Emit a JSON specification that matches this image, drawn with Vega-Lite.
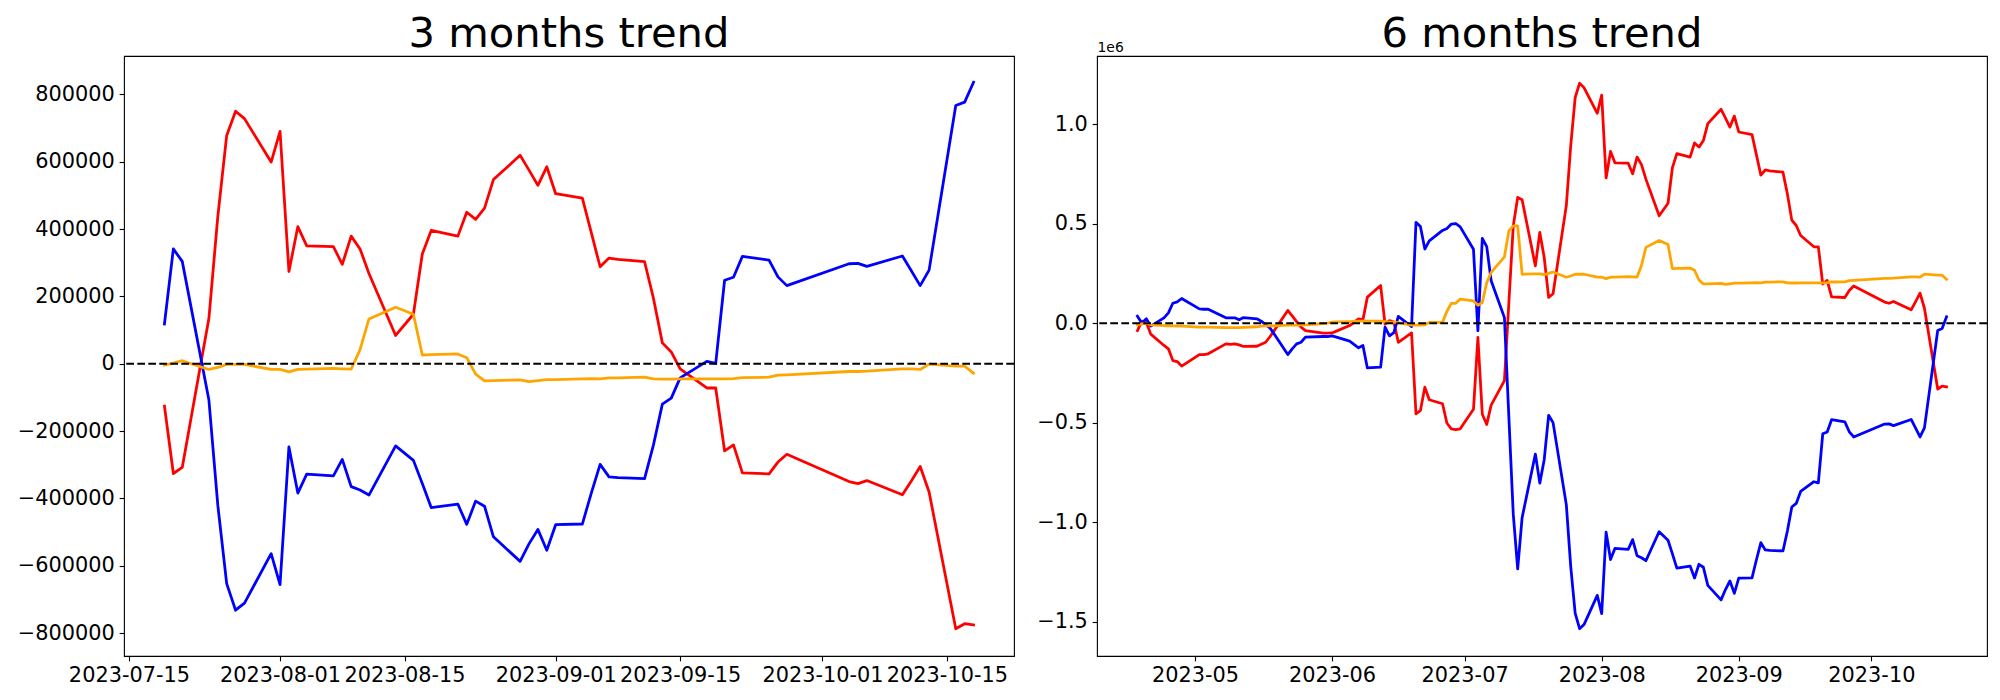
{"$schema":"https://vega.github.io/schema/vega-lite/v6.json","background":"white","padding":{"left":16,"top":13,"right":10,"bottom":10},"autosize":{"type":"pad"},"bounds":"flush","spacing":83,
"datasets":{
"m3":[
{"d":"2023-07-19","s":"s1","v":-126000},{"d":"2023-07-20","s":"s1","v":-326000},{"d":"2023-07-21","s":"s1","v":-308000},{"d":"2023-07-24","s":"s1","v":135000},{"d":"2023-07-25","s":"s1","v":437000},{"d":"2023-07-26","s":"s1","v":678000},{"d":"2023-07-27","s":"s1","v":750000},{"d":"2023-07-28","s":"s1","v":728000},{"d":"2023-07-31","s":"s1","v":599000},{"d":"2023-08-01","s":"s1","v":690000},{"d":"2023-08-02","s":"s1","v":274000},{"d":"2023-08-03","s":"s1","v":407000},{"d":"2023-08-04","s":"s1","v":350000},{"d":"2023-08-07","s":"s1","v":348000},{"d":"2023-08-08","s":"s1","v":295000},{"d":"2023-08-09","s":"s1","v":379000},{"d":"2023-08-10","s":"s1","v":341000},{"d":"2023-08-11","s":"s1","v":268000},{"d":"2023-08-14","s":"s1","v":84000},{"d":"2023-08-16","s":"s1","v":147000},{"d":"2023-08-17","s":"s1","v":326000},{"d":"2023-08-18","s":"s1","v":396000},{"d":"2023-08-21","s":"s1","v":379000},{"d":"2023-08-22","s":"s1","v":450000},{"d":"2023-08-23","s":"s1","v":429000},{"d":"2023-08-24","s":"s1","v":462000},{"d":"2023-08-25","s":"s1","v":547000},{"d":"2023-08-28","s":"s1","v":619000},{"d":"2023-08-29","s":"s1","v":575000},{"d":"2023-08-30","s":"s1","v":530000},{"d":"2023-08-31","s":"s1","v":585000},{"d":"2023-09-01","s":"s1","v":505000},{"d":"2023-09-04","s":"s1","v":492000},{"d":"2023-09-05","s":"s1","v":390000},{"d":"2023-09-06","s":"s1","v":288000},{"d":"2023-09-07","s":"s1","v":314000},{"d":"2023-09-08","s":"s1","v":310000},{"d":"2023-09-11","s":"s1","v":303000},{"d":"2023-09-12","s":"s1","v":194000},{"d":"2023-09-13","s":"s1","v":62000},{"d":"2023-09-14","s":"s1","v":35000},{"d":"2023-09-15","s":"s1","v":-15000},{"d":"2023-09-18","s":"s1","v":-72000},{"d":"2023-09-19","s":"s1","v":-72000},{"d":"2023-09-20","s":"s1","v":-259000},{"d":"2023-09-21","s":"s1","v":-241000},{"d":"2023-09-22","s":"s1","v":-324000},{"d":"2023-09-25","s":"s1","v":-327000},{"d":"2023-09-26","s":"s1","v":-292000},{"d":"2023-09-27","s":"s1","v":-269000},{"d":"2023-10-04","s":"s1","v":-350000},{"d":"2023-10-05","s":"s1","v":-356000},{"d":"2023-10-06","s":"s1","v":-347000},{"d":"2023-10-10","s":"s1","v":-389000},{"d":"2023-10-11","s":"s1","v":-348000},{"d":"2023-10-12","s":"s1","v":-305000},{"d":"2023-10-13","s":"s1","v":-381000},{"d":"2023-10-16","s":"s1","v":-787000},{"d":"2023-10-17","s":"s1","v":-772000},{"d":"2023-10-18","s":"s1","v":-776000},
{"d":"2023-07-19","s":"s2","v":118000},{"d":"2023-07-20","s":"s2","v":341000},{"d":"2023-07-21","s":"s2","v":304000},{"d":"2023-07-24","s":"s2","v":-108000},{"d":"2023-07-25","s":"s2","v":-420000},{"d":"2023-07-26","s":"s2","v":-653000},{"d":"2023-07-27","s":"s2","v":-732000},{"d":"2023-07-28","s":"s2","v":-711000},{"d":"2023-07-31","s":"s2","v":-564000},{"d":"2023-08-01","s":"s2","v":-656000},{"d":"2023-08-02","s":"s2","v":-247000},{"d":"2023-08-03","s":"s2","v":-384000},{"d":"2023-08-04","s":"s2","v":-328000},{"d":"2023-08-07","s":"s2","v":-333000},{"d":"2023-08-08","s":"s2","v":-284000},{"d":"2023-08-09","s":"s2","v":-365000},{"d":"2023-08-10","s":"s2","v":-375000},{"d":"2023-08-11","s":"s2","v":-390000},{"d":"2023-08-14","s":"s2","v":-244000},{"d":"2023-08-16","s":"s2","v":-287000},{"d":"2023-08-17","s":"s2","v":-356000},{"d":"2023-08-18","s":"s2","v":-427000},{"d":"2023-08-21","s":"s2","v":-417000},{"d":"2023-08-22","s":"s2","v":-477000},{"d":"2023-08-23","s":"s2","v":-408000},{"d":"2023-08-24","s":"s2","v":-423000},{"d":"2023-08-25","s":"s2","v":-514000},{"d":"2023-08-28","s":"s2","v":-587000},{"d":"2023-08-29","s":"s2","v":-535000},{"d":"2023-08-30","s":"s2","v":-492000},{"d":"2023-08-31","s":"s2","v":-554000},{"d":"2023-09-01","s":"s2","v":-478000},{"d":"2023-09-04","s":"s2","v":-476000},{"d":"2023-09-05","s":"s2","v":-385000},{"d":"2023-09-06","s":"s2","v":-299000},{"d":"2023-09-07","s":"s2","v":-336000},{"d":"2023-09-08","s":"s2","v":-338000},{"d":"2023-09-11","s":"s2","v":-341000},{"d":"2023-09-12","s":"s2","v":-241000},{"d":"2023-09-13","s":"s2","v":-120000},{"d":"2023-09-14","s":"s2","v":-102000},{"d":"2023-09-15","s":"s2","v":-42000},{"d":"2023-09-18","s":"s2","v":7000},{"d":"2023-09-19","s":"s2","v":1000},{"d":"2023-09-20","s":"s2","v":248000},{"d":"2023-09-21","s":"s2","v":257000},{"d":"2023-09-22","s":"s2","v":319000},{"d":"2023-09-25","s":"s2","v":308000},{"d":"2023-09-26","s":"s2","v":258000},{"d":"2023-09-27","s":"s2","v":232000},{"d":"2023-10-04","s":"s2","v":297000},{"d":"2023-10-05","s":"s2","v":298000},{"d":"2023-10-06","s":"s2","v":289000},{"d":"2023-10-10","s":"s2","v":320000},{"d":"2023-10-11","s":"s2","v":276000},{"d":"2023-10-12","s":"s2","v":232000},{"d":"2023-10-13","s":"s2","v":278000},{"d":"2023-10-16","s":"s2","v":767000},{"d":"2023-10-17","s":"s2","v":777000},{"d":"2023-10-18","s":"s2","v":836000},
{"d":"2023-07-19","s":"s3","v":-4000},{"d":"2023-07-20","s":"s3","v":2000},{"d":"2023-07-21","s":"s3","v":9000},{"d":"2023-07-24","s":"s3","v":-17000},{"d":"2023-07-25","s":"s3","v":-11000},{"d":"2023-07-26","s":"s3","v":-2000},{"d":"2023-07-27","s":"s3","v":-2000},{"d":"2023-07-28","s":"s3","v":-2000},{"d":"2023-07-31","s":"s3","v":-17000},{"d":"2023-08-01","s":"s3","v":-17000},{"d":"2023-08-02","s":"s3","v":-24000},{"d":"2023-08-03","s":"s3","v":-17000},{"d":"2023-08-04","s":"s3","v":-16000},{"d":"2023-08-07","s":"s3","v":-14000},{"d":"2023-08-08","s":"s3","v":-15000},{"d":"2023-08-09","s":"s3","v":-16000},{"d":"2023-08-10","s":"s3","v":42000},{"d":"2023-08-11","s":"s3","v":133000},{"d":"2023-08-14","s":"s3","v":168000},{"d":"2023-08-16","s":"s3","v":147000},{"d":"2023-08-17","s":"s3","v":26000},{"d":"2023-08-18","s":"s3","v":27000},{"d":"2023-08-21","s":"s3","v":29000},{"d":"2023-08-22","s":"s3","v":18000},{"d":"2023-08-23","s":"s3","v":-31000},{"d":"2023-08-24","s":"s3","v":-51000},{"d":"2023-08-25","s":"s3","v":-50000},{"d":"2023-08-28","s":"s3","v":-48000},{"d":"2023-08-29","s":"s3","v":-53000},{"d":"2023-08-30","s":"s3","v":-50000},{"d":"2023-08-31","s":"s3","v":-47000},{"d":"2023-09-01","s":"s3","v":-47000},{"d":"2023-09-04","s":"s3","v":-45000},{"d":"2023-09-05","s":"s3","v":-44000},{"d":"2023-09-06","s":"s3","v":-45000},{"d":"2023-09-07","s":"s3","v":-42000},{"d":"2023-09-08","s":"s3","v":-42000},{"d":"2023-09-11","s":"s3","v":-40000},{"d":"2023-09-12","s":"s3","v":-45000},{"d":"2023-09-13","s":"s3","v":-46000},{"d":"2023-09-14","s":"s3","v":-46000},{"d":"2023-09-15","s":"s3","v":-45000},{"d":"2023-09-18","s":"s3","v":-45000},{"d":"2023-09-19","s":"s3","v":-45000},{"d":"2023-09-20","s":"s3","v":-45000},{"d":"2023-09-21","s":"s3","v":-44000},{"d":"2023-09-22","s":"s3","v":-41000},{"d":"2023-09-25","s":"s3","v":-40000},{"d":"2023-09-26","s":"s3","v":-34000},{"d":"2023-09-27","s":"s3","v":-33000},{"d":"2023-10-04","s":"s3","v":-23000},{"d":"2023-10-05","s":"s3","v":-23000},{"d":"2023-10-06","s":"s3","v":-22000},{"d":"2023-10-10","s":"s3","v":-15000},{"d":"2023-10-11","s":"s3","v":-15000},{"d":"2023-10-12","s":"s3","v":-17000},{"d":"2023-10-13","s":"s3","v":-1000},{"d":"2023-10-16","s":"s3","v":-7000},{"d":"2023-10-17","s":"s3","v":-7000},{"d":"2023-10-18","s":"s3","v":-28000}
],
"m6":[
{"d":"2023-04-18","s":"s1","v":-37000},{"d":"2023-04-19","s":"s1","v":10000},{"d":"2023-04-20","s":"s1","v":5000},{"d":"2023-04-21","s":"s1","v":-55000},{"d":"2023-04-24","s":"s1","v":-112000},{"d":"2023-04-25","s":"s1","v":-129000},{"d":"2023-04-26","s":"s1","v":-188000},{"d":"2023-04-27","s":"s1","v":-193000},{"d":"2023-04-28","s":"s1","v":-216000},{"d":"2023-05-02","s":"s1","v":-158000},{"d":"2023-05-03","s":"s1","v":-158000},{"d":"2023-05-04","s":"s1","v":-154000},{"d":"2023-05-08","s":"s1","v":-104000},{"d":"2023-05-09","s":"s1","v":-107000},{"d":"2023-05-10","s":"s1","v":-104000},{"d":"2023-05-11","s":"s1","v":-109000},{"d":"2023-05-12","s":"s1","v":-117000},{"d":"2023-05-15","s":"s1","v":-116000},{"d":"2023-05-16","s":"s1","v":-106000},{"d":"2023-05-17","s":"s1","v":-96000},{"d":"2023-05-18","s":"s1","v":-67000},{"d":"2023-05-19","s":"s1","v":-35000},{"d":"2023-05-22","s":"s1","v":64000},{"d":"2023-05-23","s":"s1","v":37000},{"d":"2023-05-24","s":"s1","v":8000},{"d":"2023-05-25","s":"s1","v":-20000},{"d":"2023-05-26","s":"s1","v":-37000},{"d":"2023-05-30","s":"s1","v":-50000},{"d":"2023-05-31","s":"s1","v":-50000},{"d":"2023-06-01","s":"s1","v":-49000},{"d":"2023-06-02","s":"s1","v":-40000},{"d":"2023-06-05","s":"s1","v":-12000},{"d":"2023-06-07","s":"s1","v":22000},{"d":"2023-06-08","s":"s1","v":17000},{"d":"2023-06-09","s":"s1","v":131000},{"d":"2023-06-12","s":"s1","v":189000},{"d":"2023-06-13","s":"s1","v":-5000},{"d":"2023-06-14","s":"s1","v":13000},{"d":"2023-06-15","s":"s1","v":5000},{"d":"2023-06-16","s":"s1","v":-96000},{"d":"2023-06-19","s":"s1","v":-49000},{"d":"2023-06-20","s":"s1","v":-456000},{"d":"2023-06-21","s":"s1","v":-439000},{"d":"2023-06-22","s":"s1","v":-322000},{"d":"2023-06-23","s":"s1","v":-385000},{"d":"2023-06-26","s":"s1","v":-405000},{"d":"2023-06-27","s":"s1","v":-503000},{"d":"2023-06-28","s":"s1","v":-531000},{"d":"2023-06-29","s":"s1","v":-535000},{"d":"2023-06-30","s":"s1","v":-531000},{"d":"2023-07-03","s":"s1","v":-433000},{"d":"2023-07-04","s":"s1","v":-72000},{"d":"2023-07-05","s":"s1","v":-458000},{"d":"2023-07-06","s":"s1","v":-509000},{"d":"2023-07-07","s":"s1","v":-412000},{"d":"2023-07-10","s":"s1","v":-289000},{"d":"2023-07-11","s":"s1","v":100000},{"d":"2023-07-12","s":"s1","v":489000},{"d":"2023-07-13","s":"s1","v":632000},{"d":"2023-07-14","s":"s1","v":620000},{"d":"2023-07-17","s":"s1","v":288000},{"d":"2023-07-18","s":"s1","v":456000},
{"d":"2023-07-19","s":"s1","v":330000},{"d":"2023-07-20","s":"s1","v":130000},{"d":"2023-07-21","s":"s1","v":148000},{"d":"2023-07-24","s":"s1","v":591000},{"d":"2023-07-25","s":"s1","v":893000},{"d":"2023-07-26","s":"s1","v":1134000},{"d":"2023-07-27","s":"s1","v":1206000},{"d":"2023-07-28","s":"s1","v":1184000},{"d":"2023-07-31","s":"s1","v":1055000},{"d":"2023-08-01","s":"s1","v":1146000},{"d":"2023-08-02","s":"s1","v":730000},{"d":"2023-08-03","s":"s1","v":863000},{"d":"2023-08-04","s":"s1","v":806000},{"d":"2023-08-07","s":"s1","v":804000},{"d":"2023-08-08","s":"s1","v":751000},{"d":"2023-08-09","s":"s1","v":835000},{"d":"2023-08-10","s":"s1","v":797000},{"d":"2023-08-11","s":"s1","v":724000},{"d":"2023-08-14","s":"s1","v":540000},{"d":"2023-08-16","s":"s1","v":603000},{"d":"2023-08-17","s":"s1","v":782000},{"d":"2023-08-18","s":"s1","v":852000},{"d":"2023-08-21","s":"s1","v":835000},{"d":"2023-08-22","s":"s1","v":906000},{"d":"2023-08-23","s":"s1","v":885000},{"d":"2023-08-24","s":"s1","v":918000},{"d":"2023-08-25","s":"s1","v":1003000},{"d":"2023-08-28","s":"s1","v":1075000},{"d":"2023-08-29","s":"s1","v":1031000},{"d":"2023-08-30","s":"s1","v":986000},{"d":"2023-08-31","s":"s1","v":1041000},{"d":"2023-09-01","s":"s1","v":961000},{"d":"2023-09-04","s":"s1","v":948000},{"d":"2023-09-05","s":"s1","v":846000},{"d":"2023-09-06","s":"s1","v":744000},{"d":"2023-09-07","s":"s1","v":770000},{"d":"2023-09-08","s":"s1","v":766000},{"d":"2023-09-11","s":"s1","v":759000},{"d":"2023-09-12","s":"s1","v":650000},{"d":"2023-09-13","s":"s1","v":518000},{"d":"2023-09-14","s":"s1","v":491000},{"d":"2023-09-15","s":"s1","v":441000},{"d":"2023-09-18","s":"s1","v":384000},{"d":"2023-09-19","s":"s1","v":384000},{"d":"2023-09-20","s":"s1","v":197000},{"d":"2023-09-21","s":"s1","v":215000},{"d":"2023-09-22","s":"s1","v":132000},{"d":"2023-09-25","s":"s1","v":129000},{"d":"2023-09-26","s":"s1","v":164000},{"d":"2023-09-27","s":"s1","v":187000},{"d":"2023-10-04","s":"s1","v":106000},{"d":"2023-10-05","s":"s1","v":100000},{"d":"2023-10-06","s":"s1","v":109000},{"d":"2023-10-10","s":"s1","v":67000},{"d":"2023-10-11","s":"s1","v":108000},{"d":"2023-10-12","s":"s1","v":151000},{"d":"2023-10-13","s":"s1","v":75000},{"d":"2023-10-16","s":"s1","v":-331000},{"d":"2023-10-17","s":"s1","v":-316000},{"d":"2023-10-18","s":"s1","v":-320000},
{"d":"2023-04-18","s":"s2","v":35000},{"d":"2023-04-19","s":"s2","v":0},{"d":"2023-04-20","s":"s2","v":22000},{"d":"2023-04-21","s":"s2","v":-15000},{"d":"2023-04-24","s":"s2","v":27000},{"d":"2023-04-25","s":"s2","v":52000},{"d":"2023-04-26","s":"s2","v":100000},{"d":"2023-04-27","s":"s2","v":107000},{"d":"2023-04-28","s":"s2","v":124000},{"d":"2023-05-02","s":"s2","v":72000},{"d":"2023-05-03","s":"s2","v":70000},{"d":"2023-05-04","s":"s2","v":70000},{"d":"2023-05-08","s":"s2","v":27000},{"d":"2023-05-09","s":"s2","v":27000},{"d":"2023-05-10","s":"s2","v":27000},{"d":"2023-05-11","s":"s2","v":17000},{"d":"2023-05-12","s":"s2","v":28000},{"d":"2023-05-15","s":"s2","v":22000},{"d":"2023-05-16","s":"s2","v":10000},{"d":"2023-05-17","s":"s2","v":-7000},{"d":"2023-05-18","s":"s2","v":-25000},{"d":"2023-05-19","s":"s2","v":-57000},{"d":"2023-05-22","s":"s2","v":-158000},{"d":"2023-05-23","s":"s2","v":-129000},{"d":"2023-05-24","s":"s2","v":-104000},{"d":"2023-05-25","s":"s2","v":-96000},{"d":"2023-05-26","s":"s2","v":-70000},{"d":"2023-05-30","s":"s2","v":-67000},{"d":"2023-05-31","s":"s2","v":-67000},{"d":"2023-06-01","s":"s2","v":-64000},{"d":"2023-06-02","s":"s2","v":-70000},{"d":"2023-06-05","s":"s2","v":-90000},{"d":"2023-06-07","s":"s2","v":-124000},{"d":"2023-06-08","s":"s2","v":-112000},{"d":"2023-06-09","s":"s2","v":-225000},{"d":"2023-06-12","s":"s2","v":-221000},{"d":"2023-06-13","s":"s2","v":-20000},{"d":"2023-06-14","s":"s2","v":-64000},{"d":"2023-06-15","s":"s2","v":-47000},{"d":"2023-06-16","s":"s2","v":34000},{"d":"2023-06-19","s":"s2","v":-17000},{"d":"2023-06-20","s":"s2","v":507000},{"d":"2023-06-21","s":"s2","v":486000},{"d":"2023-06-22","s":"s2","v":373000},{"d":"2023-06-23","s":"s2","v":414000},{"d":"2023-06-26","s":"s2","v":466000},{"d":"2023-06-27","s":"s2","v":476000},{"d":"2023-06-28","s":"s2","v":498000},{"d":"2023-06-29","s":"s2","v":501000},{"d":"2023-06-30","s":"s2","v":484000},{"d":"2023-07-03","s":"s2","v":372000},{"d":"2023-07-04","s":"s2","v":-38000},{"d":"2023-07-05","s":"s2","v":426000},{"d":"2023-07-06","s":"s2","v":385000},{"d":"2023-07-07","s":"s2","v":213000},{"d":"2023-07-10","s":"s2","v":28000},{"d":"2023-07-11","s":"s2","v":-470000},{"d":"2023-07-12","s":"s2","v":-960000},{"d":"2023-07-13","s":"s2","v":-1235000},{"d":"2023-07-14","s":"s2","v":-978000},{"d":"2023-07-17","s":"s2","v":-658000},{"d":"2023-07-18","s":"s2","v":-804000},
{"d":"2023-07-19","s":"s2","v":-686000},{"d":"2023-07-20","s":"s2","v":-463000},{"d":"2023-07-21","s":"s2","v":-500000},{"d":"2023-07-24","s":"s2","v":-912000},{"d":"2023-07-25","s":"s2","v":-1224000},{"d":"2023-07-26","s":"s2","v":-1457000},{"d":"2023-07-27","s":"s2","v":-1536000},{"d":"2023-07-28","s":"s2","v":-1515000},{"d":"2023-07-31","s":"s2","v":-1368000},{"d":"2023-08-01","s":"s2","v":-1460000},{"d":"2023-08-02","s":"s2","v":-1051000},{"d":"2023-08-03","s":"s2","v":-1188000},{"d":"2023-08-04","s":"s2","v":-1132000},{"d":"2023-08-07","s":"s2","v":-1137000},{"d":"2023-08-08","s":"s2","v":-1088000},{"d":"2023-08-09","s":"s2","v":-1169000},{"d":"2023-08-10","s":"s2","v":-1179000},{"d":"2023-08-11","s":"s2","v":-1194000},{"d":"2023-08-14","s":"s2","v":-1048000},{"d":"2023-08-16","s":"s2","v":-1091000},{"d":"2023-08-17","s":"s2","v":-1160000},{"d":"2023-08-18","s":"s2","v":-1231000},{"d":"2023-08-21","s":"s2","v":-1221000},{"d":"2023-08-22","s":"s2","v":-1281000},{"d":"2023-08-23","s":"s2","v":-1212000},{"d":"2023-08-24","s":"s2","v":-1227000},{"d":"2023-08-25","s":"s2","v":-1318000},{"d":"2023-08-28","s":"s2","v":-1391000},{"d":"2023-08-29","s":"s2","v":-1339000},{"d":"2023-08-30","s":"s2","v":-1296000},{"d":"2023-08-31","s":"s2","v":-1358000},{"d":"2023-09-01","s":"s2","v":-1282000},{"d":"2023-09-04","s":"s2","v":-1280000},{"d":"2023-09-05","s":"s2","v":-1189000},{"d":"2023-09-06","s":"s2","v":-1103000},{"d":"2023-09-07","s":"s2","v":-1140000},{"d":"2023-09-08","s":"s2","v":-1142000},{"d":"2023-09-11","s":"s2","v":-1145000},{"d":"2023-09-12","s":"s2","v":-1045000},{"d":"2023-09-13","s":"s2","v":-924000},{"d":"2023-09-14","s":"s2","v":-906000},{"d":"2023-09-15","s":"s2","v":-846000},{"d":"2023-09-18","s":"s2","v":-797000},{"d":"2023-09-19","s":"s2","v":-803000},{"d":"2023-09-20","s":"s2","v":-556000},{"d":"2023-09-21","s":"s2","v":-547000},{"d":"2023-09-22","s":"s2","v":-485000},{"d":"2023-09-25","s":"s2","v":-496000},{"d":"2023-09-26","s":"s2","v":-546000},{"d":"2023-09-27","s":"s2","v":-572000},{"d":"2023-10-04","s":"s2","v":-507000},{"d":"2023-10-05","s":"s2","v":-506000},{"d":"2023-10-06","s":"s2","v":-515000},{"d":"2023-10-10","s":"s2","v":-484000},{"d":"2023-10-11","s":"s2","v":-528000},{"d":"2023-10-12","s":"s2","v":-572000},{"d":"2023-10-13","s":"s2","v":-526000},{"d":"2023-10-16","s":"s2","v":-37000},{"d":"2023-10-17","s":"s2","v":-27000},{"d":"2023-10-18","s":"s2","v":32000},
{"d":"2023-04-18","s":"s3","v":-8000},{"d":"2023-04-19","s":"s3","v":-3000},{"d":"2023-04-20","s":"s3","v":0},{"d":"2023-04-21","s":"s3","v":-8000},{"d":"2023-04-24","s":"s3","v":-12000},{"d":"2023-04-25","s":"s3","v":-13000},{"d":"2023-04-26","s":"s3","v":-14000},{"d":"2023-04-27","s":"s3","v":-15000},{"d":"2023-04-28","s":"s3","v":-15000},{"d":"2023-05-02","s":"s3","v":-20000},{"d":"2023-05-03","s":"s3","v":-20000},{"d":"2023-05-04","s":"s3","v":-20000},{"d":"2023-05-08","s":"s3","v":-22000},{"d":"2023-05-09","s":"s3","v":-22000},{"d":"2023-05-10","s":"s3","v":-22000},{"d":"2023-05-11","s":"s3","v":-22000},{"d":"2023-05-12","s":"s3","v":-21000},{"d":"2023-05-15","s":"s3","v":-18000},{"d":"2023-05-16","s":"s3","v":-15000},{"d":"2023-05-17","s":"s3","v":-14000},{"d":"2023-05-18","s":"s3","v":-14000},{"d":"2023-05-19","s":"s3","v":-13000},{"d":"2023-05-22","s":"s3","v":-10000},{"d":"2023-05-23","s":"s3","v":-10000},{"d":"2023-05-24","s":"s3","v":-10000},{"d":"2023-05-25","s":"s3","v":-9000},{"d":"2023-05-26","s":"s3","v":-8000},{"d":"2023-05-30","s":"s3","v":-2000},{"d":"2023-05-31","s":"s3","v":0},{"d":"2023-06-01","s":"s3","v":5000},{"d":"2023-06-02","s":"s3","v":6000},{"d":"2023-06-05","s":"s3","v":8000},{"d":"2023-06-07","s":"s3","v":10000},{"d":"2023-06-08","s":"s3","v":10000},{"d":"2023-06-09","s":"s3","v":10000},{"d":"2023-06-12","s":"s3","v":10000},{"d":"2023-06-13","s":"s3","v":8000},{"d":"2023-06-14","s":"s3","v":5000},{"d":"2023-06-15","s":"s3","v":5000},{"d":"2023-06-16","s":"s3","v":3000},{"d":"2023-06-19","s":"s3","v":-10000},{"d":"2023-06-20","s":"s3","v":-10000},{"d":"2023-06-21","s":"s3","v":-10000},{"d":"2023-06-22","s":"s3","v":-8000},{"d":"2023-06-23","s":"s3","v":4000},{"d":"2023-06-26","s":"s3","v":4000},{"d":"2023-06-27","s":"s3","v":60000},{"d":"2023-06-28","s":"s3","v":100000},{"d":"2023-06-29","s":"s3","v":100000},{"d":"2023-06-30","s":"s3","v":121000},{"d":"2023-07-03","s":"s3","v":112000},{"d":"2023-07-04","s":"s3","v":90000},{"d":"2023-07-05","s":"s3","v":104000},{"d":"2023-07-06","s":"s3","v":204000},{"d":"2023-07-07","s":"s3","v":255000},{"d":"2023-07-10","s":"s3","v":333000},{"d":"2023-07-11","s":"s3","v":464000},{"d":"2023-07-12","s":"s3","v":489000},{"d":"2023-07-13","s":"s3","v":489000},{"d":"2023-07-14","s":"s3","v":246000},{"d":"2023-07-17","s":"s3","v":248000},{"d":"2023-07-18","s":"s3","v":248000},
{"d":"2023-07-19","s":"s3","v":244000},{"d":"2023-07-20","s":"s3","v":250000},{"d":"2023-07-21","s":"s3","v":257000},{"d":"2023-07-24","s":"s3","v":231000},{"d":"2023-07-25","s":"s3","v":237000},{"d":"2023-07-26","s":"s3","v":246000},{"d":"2023-07-27","s":"s3","v":246000},{"d":"2023-07-28","s":"s3","v":246000},{"d":"2023-07-31","s":"s3","v":231000},{"d":"2023-08-01","s":"s3","v":231000},{"d":"2023-08-02","s":"s3","v":224000},{"d":"2023-08-03","s":"s3","v":231000},{"d":"2023-08-04","s":"s3","v":232000},{"d":"2023-08-07","s":"s3","v":234000},{"d":"2023-08-08","s":"s3","v":233000},{"d":"2023-08-09","s":"s3","v":232000},{"d":"2023-08-10","s":"s3","v":290000},{"d":"2023-08-11","s":"s3","v":381000},{"d":"2023-08-14","s":"s3","v":416000},{"d":"2023-08-16","s":"s3","v":395000},{"d":"2023-08-17","s":"s3","v":274000},{"d":"2023-08-18","s":"s3","v":275000},{"d":"2023-08-21","s":"s3","v":277000},{"d":"2023-08-22","s":"s3","v":266000},{"d":"2023-08-23","s":"s3","v":217000},{"d":"2023-08-24","s":"s3","v":197000},{"d":"2023-08-25","s":"s3","v":198000},{"d":"2023-08-28","s":"s3","v":200000},{"d":"2023-08-29","s":"s3","v":195000},{"d":"2023-08-30","s":"s3","v":198000},{"d":"2023-08-31","s":"s3","v":201000},{"d":"2023-09-01","s":"s3","v":201000},{"d":"2023-09-04","s":"s3","v":203000},{"d":"2023-09-05","s":"s3","v":204000},{"d":"2023-09-06","s":"s3","v":203000},{"d":"2023-09-07","s":"s3","v":206000},{"d":"2023-09-08","s":"s3","v":206000},{"d":"2023-09-11","s":"s3","v":208000},{"d":"2023-09-12","s":"s3","v":203000},{"d":"2023-09-13","s":"s3","v":202000},{"d":"2023-09-14","s":"s3","v":202000},{"d":"2023-09-15","s":"s3","v":203000},{"d":"2023-09-18","s":"s3","v":203000},{"d":"2023-09-19","s":"s3","v":203000},{"d":"2023-09-20","s":"s3","v":203000},{"d":"2023-09-21","s":"s3","v":204000},{"d":"2023-09-22","s":"s3","v":207000},{"d":"2023-09-25","s":"s3","v":208000},{"d":"2023-09-26","s":"s3","v":214000},{"d":"2023-09-27","s":"s3","v":215000},{"d":"2023-10-04","s":"s3","v":225000},{"d":"2023-10-05","s":"s3","v":225000},{"d":"2023-10-06","s":"s3","v":226000},{"d":"2023-10-10","s":"s3","v":233000},{"d":"2023-10-11","s":"s3","v":233000},{"d":"2023-10-12","s":"s3","v":231000},{"d":"2023-10-13","s":"s3","v":247000},{"d":"2023-10-16","s":"s3","v":241000},{"d":"2023-10-17","s":"s3","v":241000},{"d":"2023-10-18","s":"s3","v":220000}
]},
"config":{"view":{"stroke":"black","strokeWidth":1.11},
"axis":{"domain":false,"grid":false,"tickColor":"black","tickWidth":1.11,"tickSize":4.86,"labelPadding":4.86,"labelFont":"DejaVu Sans","labelFontSize":20.83,"labelColor":"black","labelFlush":false,"labelOverlap":false},
"title":{"font":"DejaVu Sans","fontSize":41.67,"fontWeight":"normal","color":"black","baseline":"alphabetic","anchor":"middle"},
"line":{"strokeWidth":2.78,"strokeJoin":"round","strokeCap":"square"}},
"hconcat":[
{"title":{"text":"3 months trend","offset":0},"width":890,"height":600,
"layer":[
{"data":{"name":"m3"},"mark":{"type":"line","clip":true},
"encoding":{
"x":{"field":"d","type":"temporal","scale":{"type":"utc","domain":[{"year":2023,"month":7,"date":14,"hours":10,"minutes":48,"utc":true},{"year":2023,"month":10,"date":22,"hours":13,"minutes":12,"utc":true}]},
"axis":{"title":null,"labelAngle":0,"format":"%Y-%m-%d","values":[{"year":2023,"month":7,"date":15,"utc":true},{"year":2023,"month":8,"date":1,"utc":true},{"year":2023,"month":8,"date":15,"utc":true},{"year":2023,"month":9,"date":1,"utc":true},{"year":2023,"month":9,"date":15,"utc":true},{"year":2023,"month":10,"date":1,"utc":true},{"year":2023,"month":10,"date":15,"utc":true}]}},
"y":{"field":"v","type":"quantitative","scale":{"domain":[-868000,914000],"nice":false,"zero":false},"axis":{"title":null,"format":"d","values":[-800000,-600000,-400000,-200000,0,200000,400000,600000,800000]}},
"color":{"field":"s","type":"nominal","scale":{"domain":["s1","s2","s3"],"range":["#ff0000","#0000ff","#ffa500"]},"legend":null}}},
{"data":{"values":[{}]},"mark":{"type":"rule","color":"black","strokeWidth":2.08,"strokeDash":[7.7,3.3]},"encoding":{"y":{"datum":0}}}
]},
{"title":{"text":"6 months trend","offset":-16},"width":890,"height":600,
"layer":[
{"data":{"name":"m6"},"mark":{"type":"line","clip":true},
"encoding":{
"x":{"field":"d","type":"temporal","scale":{"type":"utc","domain":[{"year":2023,"month":4,"date":8,"hours":20,"minutes":24,"utc":true},{"year":2023,"month":10,"date":27,"hours":3,"minutes":36,"utc":true}]},
"axis":{"title":null,"labelAngle":0,"format":"%Y-%m","values":[{"year":2023,"month":5,"date":1,"utc":true},{"year":2023,"month":6,"date":1,"utc":true},{"year":2023,"month":7,"date":1,"utc":true},{"year":2023,"month":8,"date":1,"utc":true},{"year":2023,"month":9,"date":1,"utc":true},{"year":2023,"month":10,"date":1,"utc":true}]}},
"y":{"field":"v","type":"quantitative","scale":{"domain":[-1673000,1343000],"nice":false,"zero":false},"axis":{"values":[-1500000,-1000000,-500000,0,500000,1000000],"labelExpr":"format(datum.value / 1000000, '.1f')","title":"1e6","titleAngle":0,"titleX":0,"titleY":-5,"titleAlign":"left","titleBaseline":"alphabetic","titleFont":"DejaVu Sans","titleFontSize":13.9,"titleFontWeight":"normal","titleColor":"black"}},
"color":{"field":"s","type":"nominal","scale":{"domain":["s1","s2","s3"],"range":["#ff0000","#0000ff","#ffa500"]},"legend":null}}},
{"data":{"values":[{}]},"mark":{"type":"rule","color":"black","strokeWidth":2.08,"strokeDash":[7.7,3.3]},"encoding":{"y":{"datum":0}}}
]}
]}
